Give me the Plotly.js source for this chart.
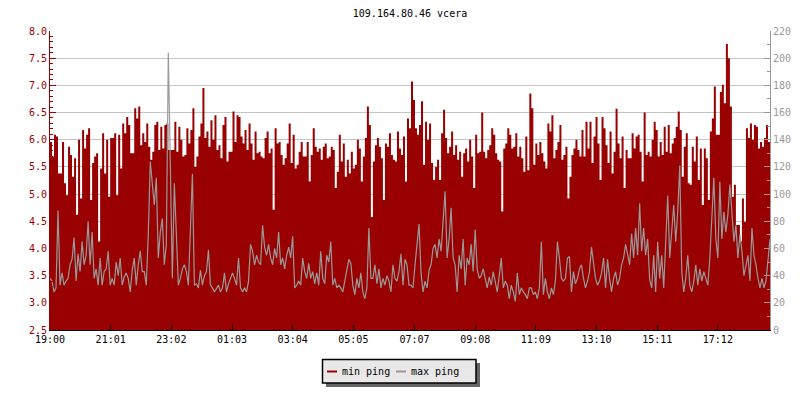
<!DOCTYPE html>
<html>
<head>
<meta charset="utf-8">
<script src="https://cdn.plot.ly/plotly-3.0.1.min.js"></script>
<style>html,body{margin:0;padding:0;background:#fff;}#chart{width:800px;height:400px;}</style>
</head>
<body>
<div id="chart"></div>
<script>
// Title and series names
const chartTitle = '109.164.80.46 vcera';
const seriesNames = ['min ping', 'max ping'];

// X-axis tick labels (time of day, chart starts at 19:00)
const tickLabels = ['19:00','21:01','23:02','01:03','03:04','05:05','07:07','09:08','11:09','13:10','15:11','17:12'];
const startLabel = '19:00';
const sampleStepMinutes = 4;

// min ping (left axis, ms), one value per sample
const minPing = [
5.96,5.69,6.09,6.06,5.38,5.38,5.96,5.20,4.98,5.87,
5.72,5.32,5.66,4.62,6.00,4.92,6.18,5.84,6.09,6.21,
4.89,5.57,5.69,5.75,4.13,5.47,6.12,5.38,6.00,4.95,
6.03,6.03,6.12,4.98,6.09,5.47,6.30,6.12,6.42,6.27,
5.75,5.75,6.58,6.39,6.61,5.90,6.12,5.96,6.30,5.87,
5.63,5.78,6.27,6.33,5.81,6.24,5.84,6.27,6.30,5.81,
5.81,5.81,6.33,5.78,6.24,6.00,5.69,5.72,6.21,5.93,
6.18,6.58,5.50,5.69,6.06,6.30,6.95,6.03,6.15,5.87,
6.36,6.00,6.45,5.81,5.90,5.66,6.27,6.42,5.60,5.78,
5.78,6.52,5.96,6.45,6.42,6.06,5.93,6.18,5.81,6.30,
5.93,5.63,6.15,5.75,5.78,5.69,5.66,6.03,6.15,5.75,
5.84,4.71,6.21,5.93,5.96,5.72,5.54,5.66,5.93,6.30,
5.57,6.09,5.47,5.54,5.78,5.96,5.69,5.69,5.96,5.23,
5.72,6.21,5.87,5.78,5.84,5.63,5.87,5.93,5.66,5.69,
5.87,5.81,5.11,5.41,6.09,5.60,5.93,5.32,5.63,5.38,
5.78,5.47,5.54,6.00,5.84,5.23,5.69,6.03,6.61,6.27,
4.58,5.60,5.90,6.03,5.87,5.66,4.89,5.93,5.87,6.12,
5.72,5.63,5.60,6.15,5.84,5.72,6.06,5.23,6.39,6.21,
7.07,6.73,6.21,6.09,6.27,6.71,5.54,6.33,6.00,6.30,
5.57,5.26,5.50,5.63,5.26,6.12,6.55,6.03,5.75,5.87,
6.15,5.72,5.90,5.63,5.78,5.32,5.75,5.84,5.60,6.00,
5.69,5.11,6.09,5.75,5.78,6.50,5.78,5.66,5.81,5.90,
6.21,6.09,5.75,5.63,5.60,4.68,5.84,5.93,6.21,6.09,
5.84,5.87,6.12,5.69,5.87,5.66,5.41,6.06,5.44,6.85,
6.58,5.54,5.93,5.72,5.96,5.75,5.60,5.47,6.30,6.15,
6.45,5.66,5.81,5.96,6.27,5.63,5.72,5.87,4.92,5.32,
5.72,5.84,6.00,5.81,5.69,6.18,5.69,6.33,5.84,6.33,
5.57,6.06,6.42,5.93,5.26,6.42,6.21,5.90,5.57,6.15,
5.38,5.78,6.57,5.93,5.66,6.06,5.11,5.81,5.66,5.66,
6.12,5.84,6.06,6.09,5.78,5.23,6.50,5.72,5.78,5.69,
6.00,6.33,6.18,5.69,5.96,5.72,6.24,5.78,6.27,5.75,
5.93,6.03,6.24,6.52,6.18,5.32,5.87,6.12,5.20,5.17,
5.87,5.60,6.06,5.26,5.84,4.80,5.84,5.66,4.89,6.15,
6.39,6.98,6.09,6.09,6.88,7.01,6.67,7.76,7.50,6.61,
4.95,5.17,4.43,4.43,4.13,4.92,4.49,6.21,6.03,6.30,
6.00,6.27,6.24,5.84,5.96,5.87,6.03,6.27,5.96,4.83
];

// max ping (right axis, ms), one value per sample
const maxPing = [
38,36,28,31,88,33,42,33,36,38,
48,52,68,36,56,43,65,48,55,80,
48,72,38,45,33,53,33,43,45,58,
33,38,33,50,40,53,33,39,42,38,
28,44,53,33,48,58,43,43,33,70,
124,107,92,112,53,72,82,48,63,204,
121,38,108,72,33,38,45,48,43,33,
80,115,33,34,31,44,33,40,43,59,
33,31,28,31,33,28,31,42,28,34,
38,42,38,33,53,31,28,31,28,36,
63,58,48,55,50,48,77,61,55,63,
53,48,60,53,72,48,53,45,55,61,
53,69,31,33,36,33,53,43,38,49,
38,43,34,42,33,58,38,34,55,50,
65,33,38,31,33,31,28,36,43,52,
49,33,26,38,31,42,28,23,31,75,
38,38,48,34,45,31,38,33,40,36,
28,48,38,36,43,56,33,52,48,33,
33,31,48,61,78,42,28,36,31,44,
48,60,63,53,67,58,77,102,53,67,
90,53,48,28,55,45,67,33,53,48,
63,43,74,45,38,40,45,38,31,39,
33,43,36,28,40,53,31,36,33,23,
33,28,21,42,26,31,28,26,23,31,
31,26,28,23,31,65,26,38,28,23,
31,26,36,65,53,38,36,38,53,54,
28,43,34,38,45,48,38,31,36,43,
61,48,38,33,36,42,53,31,52,38,
28,38,43,33,38,48,53,63,55,48,
71,53,75,55,93,58,75,55,67,37,
31,55,28,65,38,55,31,63,99,53,
77,92,65,87,121,43,28,38,55,33,
28,36,48,33,45,36,43,38,33,53,
80,112,67,53,109,67,87,72,85,107,
87,65,77,53,70,58,40,48,55,36,
75,55,48,38,31,38,31,36,53,67
];

const RED = '#990000';
const GREY = '#999999';
const FONT = 'DejaVu Sans Mono';

function toMinutes(lbl) {
  const p = lbl.split(':').map(Number);
  return p[0] * 60 + p[1];
}
const startMin = toMinutes(startLabel);
const tickVals = tickLabels.map(l => {
  let m = toMinutes(l) - startMin;
  if (m < 0) m += 1440;
  return m;
});
const times = minPing.map((_, i) => i * sampleStepMinutes);
const xEnd = times[times.length - 1];

const traces = [
  {
    type: 'scatter', mode: 'lines', name: seriesNames[0],
    x: times, y: minPing, yaxis: 'y',
    line: {color: RED, width: 0, shape: 'hv'},
    fill: 'tozeroy', fillcolor: RED,
    hoverinfo: 'skip'
  },
  {
    type: 'scatter', mode: 'lines', name: seriesNames[1],
    x: times, y: maxPing, yaxis: 'y2',
    line: {color: GREY, width: 1.2, shape: 'linear'},
    hoverinfo: 'skip'
  }
];

const px = v => (v - 50) / 720;
const py = v => (330 - v) / 299;

const layout = {
  width: 800, height: 400,
  margin: {l: 50, r: 30, t: 31, b: 70, pad: 0},
  paper_bgcolor: '#ffffff', plot_bgcolor: '#ffffff',
  font: {family: FONT, size: 10, color: '#000'},
  showlegend: false,
  title: {
    text: chartTitle,
    font: {family: FONT, size: 10, color: '#000'},
    x: 0.5, xref: 'paper', xanchor: 'center',
    y: 1 - 13 / 400, yref: 'container', yanchor: 'middle'
  },
  xaxis: {
    range: [0, xEnd], tickmode: 'array', tickvals: tickVals, ticktext: tickLabels,
    ticks: 'inside', ticklen: 5, tickcolor: '#000', tickwidth: 1,
    showline: true, linecolor: '#000', linewidth: 1,
    showgrid: false, zeroline: false,
    tickfont: {family: FONT, size: 10, color: '#000'},
    fixedrange: true
  },
  yaxis: {
    range: [2.5, 8.0], tick0: 2.5, dtick: 0.5, tickformat: '.1f',
    ticks: 'inside', ticklen: 6, tickcolor: RED, tickwidth: 1,
    showline: true, linecolor: RED, linewidth: 1,
    showgrid: true, gridcolor: '#c4c4c4', gridwidth: 1, zeroline: false,
    tickfont: {family: FONT, size: 10, color: RED},
    minor: {dtick: 0.1, tick0: 2.5, ticks: 'inside', ticklen: 3, tickcolor: RED, showgrid: false},
    fixedrange: true
  },
  yaxis2: {
    overlaying: 'y', side: 'right',
    range: [0, 220], tick0: 0, dtick: 20,
    ticks: 'inside', ticklen: 6, tickcolor: GREY, tickwidth: 1,
    showline: true, linecolor: GREY, linewidth: 1,
    showgrid: false, zeroline: false,
    tickfont: {family: FONT, size: 10, color: GREY},
    minor: {dtick: 10, tick0: 0, ticks: 'inside', ticklen: 3, tickcolor: GREY, showgrid: false},
    fixedrange: true
  },
  shapes: [
    {type: 'rect', xref: 'paper', yref: 'paper', x0: px(326), x1: px(480), y0: py(363), y1: py(387),
     fillcolor: '#666666', line: {width: 0}},
    {type: 'rect', xref: 'paper', yref: 'paper', x0: px(322.5), x1: px(476), y0: py(359.5), y1: py(383),
     fillcolor: '#e8e8e8', line: {color: '#000', width: 1.5}},
    {type: 'line', xref: 'paper', yref: 'paper', x0: px(327), x1: px(337), y0: py(371.5), y1: py(371.5),
     line: {color: RED, width: 2}},
    {type: 'line', xref: 'paper', yref: 'paper', x0: px(396), x1: px(406), y0: py(371.5), y1: py(371.5),
     line: {color: GREY, width: 2}}
  ],
  annotations: [
    {xref: 'paper', yref: 'paper', x: px(340), y: py(371), xanchor: 'left', yanchor: 'middle',
     text: seriesNames[0], showarrow: false, font: {family: FONT, size: 10, color: '#000'}},
    {xref: 'paper', yref: 'paper', x: px(408.5), y: py(371), xanchor: 'left', yanchor: 'middle',
     text: seriesNames[1], showarrow: false, font: {family: FONT, size: 10, color: '#000'}}
  ]
};

Plotly.newPlot('chart', traces, layout, {displayModeBar: false, staticPlot: true});
</script>
</body>
</html>
